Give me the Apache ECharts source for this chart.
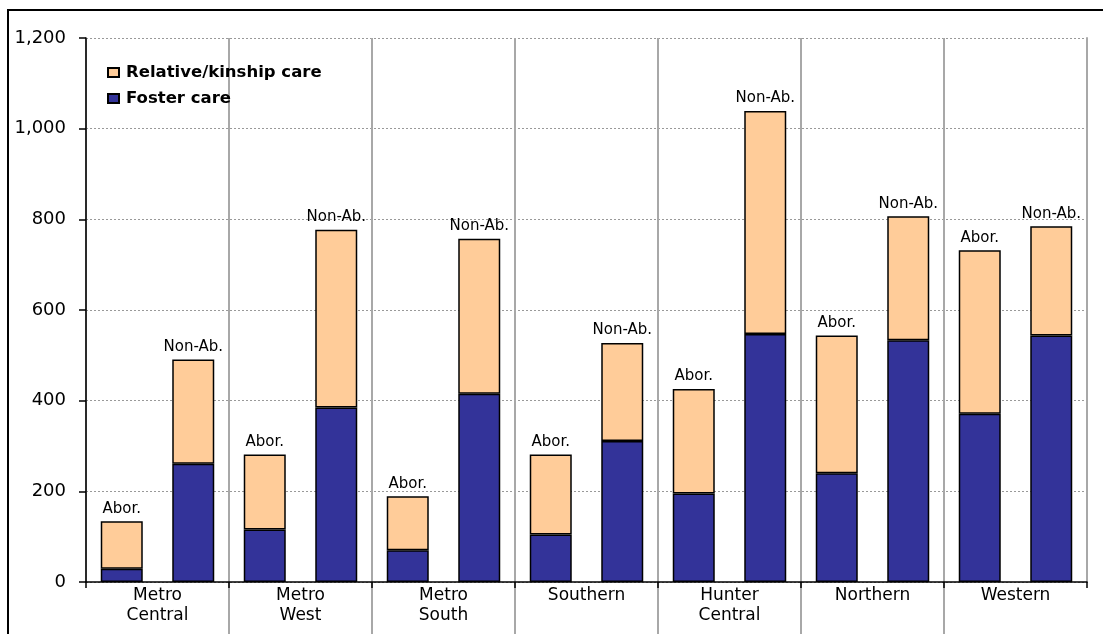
<!DOCTYPE html>
<html><head><meta charset="utf-8">
<script src="https://cdn.jsdelivr.net/npm/echarts@6/dist/echarts.min.js"></script>
<style>html,body{margin:0;padding:0;background:#fff}#c{width:1103px;height:634px}</style>
</head><body><div id="c"></div>
<script>
// ---- data ----
const groups = ['Metro\nCentral', 'Metro\nWest', 'Metro\nSouth', 'Southern', 'Hunter\nCentral', 'Northern', 'Western'];
const barLabels = ['Abor.', 'Non-Ab.', 'Abor.', 'Non-Ab.', 'Abor.', 'Non-Ab.', 'Abor.', 'Non-Ab.', 'Abor.', 'Non-Ab.', 'Abor.', 'Non-Ab.', 'Abor.', 'Non-Ab.'];
const fosterCare   = [29, 261, 116, 385, 70, 415, 105, 311, 195, 547, 240, 533, 371, 544];
const relativeCare = [105, 230, 165, 392, 119, 342, 176, 216, 231, 492, 304, 274, 361, 241];
const yMin = 0, yMax = 1200, yStep = 200;

const FONT = "'DejaVu Sans', 'Liberation Sans', sans-serif";
const chart = echarts.init(document.getElementById('c'), null, {renderer: 'canvas'});
const option = {
  animation: false,
  backgroundColor: '#fff',
  textStyle: {fontFamily: FONT, color: '#000'},
  graphic: [{
    type: 'rect', silent: true, z: 100,
    shape: {x: 8, y: 10, width: 1200, height: 800},
    style: {fill: 'none', stroke: '#000', lineWidth: 2}
  }],
  legend: {
    data: ['Relative/kinship care', 'Foster care'],
    orient: 'vertical',
    left: 102, top: 59,
    itemWidth: 11, itemHeight: 9, itemGap: 9,
    icon: 'rect',
    textStyle: {fontFamily: FONT, fontWeight: 'bold', fontSize: 16.5, color: '#000', lineHeight: 16, padding: [0, 0, 0, 2]}
  },
  grid: [
    {left: 86, right: 16, top: 38, bottom: 52, containLabel: false},
    {left: 86, right: 16, top: 582, bottom: 0, containLabel: false}
  ],
  xAxis: [
    {type: 'category', gridIndex: 0, data: barLabels, show: false, position: 'bottom'},
    {type: 'category', gridIndex: 0, data: groups, position: 'bottom',
      axisLine: {show: true, lineStyle: {color: '#000', width: 1.5}},
      axisTick: {show: true, length: 6, lineStyle: {color: '#000', width: 1.5}},
      axisLabel: {show: true, interval: 0, margin: 4, fontFamily: FONT, fontSize: 17, lineHeight: 20, color: '#000'},
      splitLine: {show: true, lineStyle: {color: '#a8a8a8', width: 2}}
    },
    {type: 'value', gridIndex: 1, min: 0, max: groups.length, interval: 1,
      axisLine: {show: false}, axisTick: {show: false}, axisLabel: {show: false},
      splitLine: {show: true, showMinLine: false, showMaxLine: false, lineStyle: {color: '#a8a8a8', width: 2}}
    }
  ],
  yAxis: [
    {type: 'value', gridIndex: 0, min: yMin, max: yMax, interval: yStep,
      axisLine: {show: true, lineStyle: {color: '#000', width: 1.5}},
      axisTick: {show: true, length: 7, lineStyle: {color: '#000', width: 1.5}},
      axisLabel: {margin: 20, fontFamily: FONT, fontSize: 18, color: '#000',
        formatter: v => v.toLocaleString('en-US')},
      splitLine: {show: true, lineStyle: {color: '#999', width: 1, type: [2, 2]}}
    },
    {type: 'value', gridIndex: 1, show: false, min: 0, max: 1, splitLine: {show: false}},
    {type: 'value', gridIndex: 0, position: 'right', min: yMin, max: yMax, interval: yStep,
      axisLine: {show: true, lineStyle: {color: '#a8a8a8', width: 2}},
      axisTick: {show: false}, axisLabel: {show: false}, splitLine: {show: false}}
  ],
  series: [
    {name: 'Foster care', type: 'bar', stack: 'care', xAxisIndex: 0, yAxisIndex: 0,
      data: fosterCare, barWidth: 42,
      itemStyle: {color: '#333399', borderColor: '#000', borderWidth: 1.5}},
    {name: 'Relative/kinship care', type: 'bar', stack: 'care', xAxisIndex: 0, yAxisIndex: 0,
      data: relativeCare, barWidth: 42,
      itemStyle: {color: '#FFCC99', borderColor: '#000', borderWidth: 1.5},
      label: {show: true, position: 'top', distance: 5, fontFamily: FONT, fontSize: 15, color: '#000',
        formatter: p => barLabels[p.dataIndex]}}
  ]
};
chart.setOption(option);
</script></body></html>
